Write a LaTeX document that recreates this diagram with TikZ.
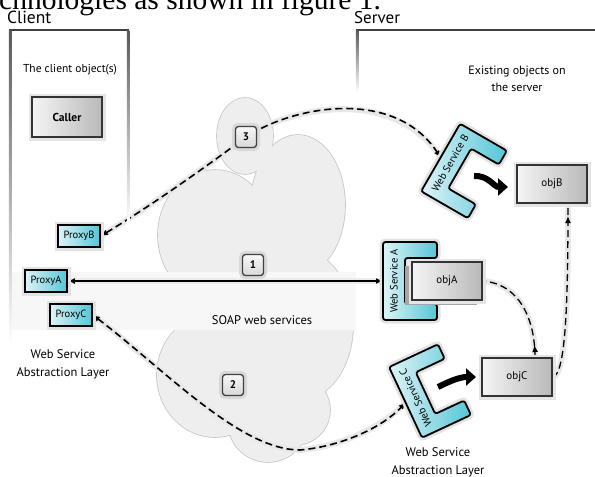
\documentclass[tikz,border=0pt]{standalone}
\usepackage{fontspec}
\setmainfont{PT Sans}
\newfontfamily\seriffont{Liberation Serif}
\usetikzlibrary{arrows.meta,decorations.markings,calc}
\definecolor{wscyan}{RGB}{84,198,214}
\definecolor{wslight}{RGB}{222,243,247}
\pgfdeclarelayer{back}
\pgfdeclarelayer{conn}
\pgfsetlayers{back,conn,main}
\tikzset{
  bracket/.pic={
    \path[left color=wslight, right color=wscyan, draw=black, line width=1.8pt, rounded corners=2.5pt,
          preaction={draw=gray!22, line width=7pt}]
      (-27,-39) -- (27,-39) -- (27,-23) -- (-5,-23) -- (-5,23) -- (27,23) -- (27,39) -- (-27,39) -- cycle;
    \node[rotate=90, transform shape, inner sep=0pt, font=\fontsize{10.5}{11}\selectfont] (-lbl) at (-16,0) {#1};
    \coordinate (-in) at (-27,0);
  }
}
\begin{document}
\begin{tikzpicture}[x=1pt,y=-1pt,
  >={Latex[length=7pt,width=6pt]},
  lab/.style={font=\fontsize{12.5}{18}\selectfont, inner sep=0pt, align=center},
  objbox/.style={draw=black!80, line width=1.4pt, minimum width=70pt, minimum height=38pt, inner sep=0pt,
     left color=gray!8, right color=gray!55, font=\fontsize{11}{12}\selectfont,
     preaction={draw=gray!20, line width=7pt}},
  proxybox/.style={draw=black, line width=1.8pt, minimum width=42pt, minimum height=22pt, inner sep=0pt,
     left color=wslight, right color=wscyan, font=\fontsize{10.5}{11}\selectfont,
     preaction={draw=gray!22, line width=7pt}},
  badge/.style={draw=black!75, line width=1.3pt, rounded corners=3pt, minimum width=21pt, minimum height=21pt,
     inner sep=0pt, top color=gray!6, bottom color=gray!30, font=\bfseries\fontsize{11}{12}\selectfont,
     preaction={draw=gray!30, line width=7pt}},
  dashconn/.style={line width=1.6pt, dash pattern=on 7pt off 4pt,
     preaction={draw=gray!18, line width=6pt, solid, -}},
  fat/.style={line width=6pt, -{Triangle[length=10pt,width=17pt]}},
  midup/.style={postaction={decorate}, decoration={markings, mark=at position #1 with {\arrow{Latex[length=7pt,width=6pt]}}}}
]
\useasboundingbox (0,0) rectangle (595,477);

% ---------- cloud and band ----------
\begin{pgfonlayer}{back}
\foreach \cx/\cy/\rx/\ry in {245/136/28/38, 298/205/47/70, 215/235/57/65, 300/325/53/75, 215/375/58/62, 268/422/40/40, 295/410/35/35, 255/300/80/90}
  \draw[gray!45, line width=1.6pt] (\cx,\cy) ellipse [x radius=\rx, y radius=\ry];
\foreach \cx/\cy/\rx/\ry in {245/136/28/38, 298/205/47/70, 215/235/57/65, 300/325/53/75, 215/375/58/62, 268/422/40/40, 295/410/35/35, 255/300/80/90}
  \fill[gray!13] (\cx,\cy) ellipse [x radius=\rx, y radius=\ry];
\fill[gray!6] (10,272) rectangle (356,330);
\end{pgfonlayer}

% ---------- frames ----------
\draw[black!75, line width=2.5pt] (8.75,30) -- (129.25,30);
\shade[top color=black!65, bottom color=white] (8.75,30) rectangle (11.25,345);
\shade[top color=black!65, bottom color=white] (126.75,30) rectangle (129.25,224);
\draw[black!75, line width=2.5pt] (355.75,30) -- (595,30);
\shade[top color=black!65, bottom color=white] (355.75,30) rectangle (358.25,92);

% ---------- texts ----------
\node[font=\seriffont\fontsize{29.5}{31}\selectfont, anchor=base west, inner sep=0pt] (toptext) at (-1,9.5) {chnologies as shown in figure 1.};
\node[font=\fontsize{17.5}{19}\selectfont, anchor=base west, inner sep=0pt] (client) at (7,23) {Client};
\node[font=\fontsize{17}{19}\selectfont, anchor=base west, inner sep=0pt] (server) at (354,23) {Server};
\node[lab, font=\fontsize{11.5}{17}\selectfont] (clobj) at (70,70) {The client object(s)};
\node[lab, font=\fontsize{12}{17}\selectfont] (exist) at (517,79) {Existing objects on\\the server};
\node[lab] (wsalL) at (63,364) {Web Service\\Abstraction Layer};
\node[lab] (wsalR) at (438,462) {Web Service\\Abstraction Layer};
\node[lab, font=\fontsize{12.5}{13}\selectfont] (soap) at (262,320) {SOAP web services};

% ---------- boxes ----------
\node[objbox, minimum height=40pt, font=\bfseries\fontsize{11.5}{12}\selectfont] (caller) at (67,117) {Caller};
\node[proxybox] (proxyB) at (79,236) {ProxyB};
\node[proxybox] (proxyA) at (46,281) {ProxyA};
\node[proxybox] (proxyC) at (71,315) {ProxyC};

\pic (wsA) at (410,281) {bracket={Web Service A}};
\pic[rotate=-30] (wsB) at (464,171) {bracket={Web Service B}};
\pic[rotate=25] (wsC) at (430,391) {bracket={Web Service C}};

\fill[gray!70] (405,266) rectangle (477,305);
\node[objbox] (objA) at (447,281) {objA};
\node[objbox] (objB) at (552,184) {objB};
\node[objbox] (objC) at (517,377) {objC};

\node[badge] (b3) at (246,137) {3};
\node[badge] (b1) at (253,265) {1};
\node[badge] (b2) at (233,385) {2};

% ---------- fat arrows ----------
\coordinate (fb1) at (474,176);
\coordinate (fb2) at (508,187);
\coordinate (fc1) at (438,387);
\coordinate (fc2) at (476,377);
\draw[fat] (fb1) .. controls (488,175) and (494,187) .. (fb2);
\draw[fat] (fc1) .. controls (450,381) and (460,377) .. (fc2);

% ---------- connectors ----------
\begin{pgfonlayer}{conn}
\draw[line width=1.4pt, <->, preaction={draw=gray!15, line width=6pt, -}] (proxyA.east) -- (wsA-in);
\draw[dashconn, <->] (proxyB.east) .. controls (160,200) and (215,160) .. (b3.center)
   .. controls (295,105) and (395,88) .. (wsB-in);
\draw[dashconn, <->] (proxyC.east) .. controls (165,370) and (240,450) .. (300,450)
   .. controls (345,446) and (385,425) .. (wsC-in);
\draw[dashconn, line width=1.3pt, midup=0.12] ([xshift=18pt]objC.north) .. controls (535,320) and (520,284) .. (objA.east);
\draw[dashconn, line width=1.3pt, midup=0.93] (objC.east) .. controls (566,375) and (568,300) .. ([xshift=16pt]objB.south);
\end{pgfonlayer}
\end{tikzpicture}
\end{document}
